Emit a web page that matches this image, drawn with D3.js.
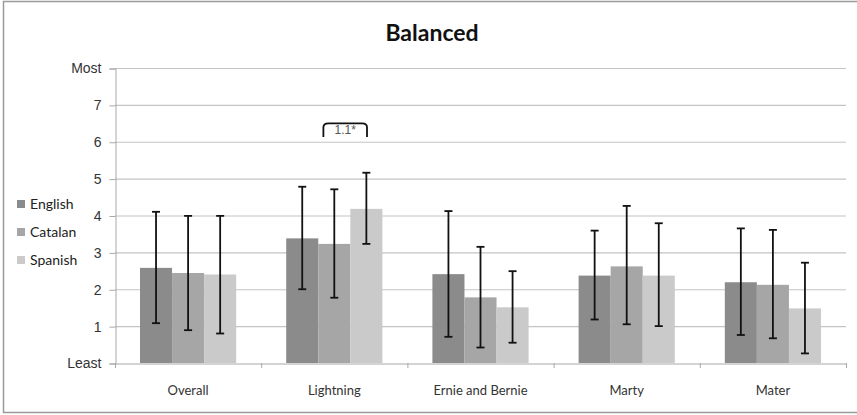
<!DOCTYPE html>
<html>
<head>
<meta charset="utf-8">
<script src="https://cdn.jsdelivr.net/npm/d3@7"></script>
<style>
  body { margin: 0; background: #fff; }
  svg { display: block; }
</style>
</head>
<body>
<script>
// chart values
const categories = ['Overall', 'Lightning', 'Ernie and Bernie', 'Marty', 'Mater'];
const seriesNames = ['English', 'Catalan', 'Spanish'];
const english = [2.58, 3.38, 2.41, 2.37, 2.19];
const catalan = [2.44, 3.23, 1.78, 2.62, 2.12];
const spanish = [2.40, 4.18, 1.51, 2.37, 1.48];
const englishHigh = [4.10, 4.78, 4.12, 3.59, 3.65];
const englishLow = [1.08, 2.00, 0.71, 1.18, 0.76];
const catalanHigh = [3.99, 4.71, 3.15, 4.26, 3.61];
const catalanLow = [0.89, 1.77, 0.42, 1.05, 0.67];
const spanishHigh = [3.99, 5.16, 2.49, 3.79, 2.72];
const spanishLow = [0.80, 3.23, 0.55, 1.00, 0.26];
const tickValues = [0, 1, 2, 3, 4, 5, 6, 7, 8];
const tickLabels = ['Least', '1', '2', '3', '4', '5', '6', '7', 'Most'];

const width = 857, height = 415;
const colors = {English: '#8b8b8b', Catalan: '#a6a6a6', Spanish: '#cacaca'};

const values = {English: english, Catalan: catalan, Spanish: spanish};
const highs = {English: englishHigh, Catalan: catalanHigh, Spanish: spanishHigh};
const lows = {English: englishLow, Catalan: catalanLow, Spanish: spanishLow};

const rows = [];
categories.forEach((c, i) => {
  seriesNames.forEach(s => {
    rows.push({cat: c, series: s, value: values[s][i], hi: highs[s][i], lo: lows[s][i]});
  });
});

const margin = {left: 115, right: 11, top: 68, bottom: 52};

let svg = d3.select('body')
  .append('svg')
  .attr('width', width)
  .attr('height', height);

svg.append('rect')
  .attr('x', 3.5).attr('y', 1.5)
  .attr('width', width).attr('height', 411)
  .attr('fill', '#fff')
  .attr('stroke', '#9a9a9a')
  .attr('stroke-width', 1.5);

const x = d3.scaleBand()
  .domain(categories)
  .range([margin.left, width - margin.right]);

const xSub = d3.scaleBand()
  .domain(seriesNames)
  .range([0, x.bandwidth()])
  .paddingInner(0)
  .paddingOuter(0.78);

const y = d3.scaleLinear()
  .domain([0, 8])
  .range([height - margin.bottom, margin.top]);

// gridlines
svg.append('g')
  .selectAll('line')
  .data(tickValues.filter(d => d > 0))
  .join('line')
  .attr('x1', margin.left)
  .attr('x2', width - margin.right)
  .attr('y1', d => y(d) + 0.5)
  .attr('y2', d => y(d) + 0.5)
  .attr('stroke', '#c4c4c4')
  .attr('stroke-width', 1.2);

// y axis
let yAxis = svg.append('g')
  .attr('transform', `translate(${margin.left + 0.5},0.5)`)
  .call(d3.axisLeft(y)
    .tickValues(tickValues)
    .tickFormat((d, i) => tickLabels[i])
    .tickSize(6)
    .tickPadding(8));
yAxis.select('.domain').attr('stroke', '#a8a8a8');
yAxis.selectAll('.tick line').attr('stroke', '#a8a8a8');
yAxis.selectAll('text')
  .attr('font-family', 'Liberation Sans, Arial, sans-serif')
  .attr('font-size', 14)
  .attr('fill', '#333');

// bars
let bars = svg.append('g')
  .selectAll('rect')
  .data(rows)
  .join('rect')
  .attr('x', d => x(d.cat) + xSub(d.series))
  .attr('width', xSub.bandwidth())
  .attr('y', d => y(d.value))
  .attr('height', d => y(0) - y(d.value))
  .attr('fill', d => colors[d.series]);

// x axis
let xAxis = svg.append('g')
  .attr('transform', `translate(0,${y(0) + 0.5})`)
  .call(d3.axisBottom(x).tickSize(0).tickPadding(22));
xAxis.select('.domain').attr('stroke', '#a8a8a8');
xAxis.selectAll('text')
  .attr('font-family', 'Lato, Open Sans, sans-serif')
  .attr('font-size', 13)
  .attr('fill', '#333');
svg.append('g')
  .selectAll('line')
  .data(categories.concat(['end']))
  .join('line')
  .attr('x1', (d, i) => margin.left + i * x.bandwidth() + 0.5)
  .attr('x2', (d, i) => margin.left + i * x.bandwidth() + 0.5)
  .attr('y1', y(0))
  .attr('y2', y(0) + 5)
  .attr('stroke', '#a8a8a8');

// error bars
const capW = 4;
let err = svg.append('g')
  .attr('stroke', '#111')
  .attr('stroke-width', 1.8)
  .selectAll('g')
  .data(rows)
  .join('g')
  .attr('transform', d => `translate(${x(d.cat) + xSub(d.series) + xSub.bandwidth() / 2},0)`);
err.append('line')
  .attr('y1', d => y(d.hi)).attr('y2', d => y(d.lo));
err.append('line')
  .attr('x1', -capW).attr('x2', capW)
  .attr('y1', d => y(d.hi)).attr('y2', d => y(d.hi));
err.append('line')
  .attr('x1', -capW).attr('x2', capW)
  .attr('y1', d => y(d.lo)).attr('y2', d => y(d.lo));

// significance bracket over Lightning
const bx1 = x('Lightning') + xSub('Catalan') + xSub.bandwidth() * 0.16;
const bx2 = x('Lightning') + xSub('Spanish') + xSub.bandwidth() * 0.52;
const byTop = y(6.5), byBot = y(6.13);
svg.append('path')
  .attr('d', `M${bx1},${byBot} L${bx1},${byTop + 4} Q${bx1},${byTop} ${bx1 + 5},${byTop} L${bx2 - 5},${byTop} Q${bx2},${byTop} ${bx2},${byTop + 4} L${bx2},${byBot}`)
  .attr('fill', 'none')
  .attr('stroke', '#111')
  .attr('stroke-width', 1.8);
svg.append('text')
  .attr('x', (bx1 + bx2) / 2)
  .attr('y', byTop + 11)
  .attr('text-anchor', 'middle')
  .attr('font-family', 'Liberation Sans, Arial, sans-serif')
  .attr('font-size', 12)
  .attr('fill', '#555')
  .text('1.1*');

// title
svg.append('text')
  .attr('x', 432)
  .attr('y', 41)
  .attr('text-anchor', 'middle')
  .attr('font-family', 'Lato, Open Sans, sans-serif')
  .attr('font-weight', 'bold')
  .attr('font-size', 23)
  .attr('fill', '#111')
  .text('Balanced');

// legend
let legend = svg.append('g')
  .selectAll('g')
  .data(seriesNames)
  .join('g')
  .attr('transform', (d, i) => `translate(17,${204 + i * 28})`);
legend.append('rect')
  .attr('x', 0).attr('y', -4)
  .attr('width', 8).attr('height', 8)
  .attr('fill', d => colors[d]);
legend.append('text')
  .attr('x', 13)
  .attr('y', 5)
  .attr('font-family', 'Lato, Open Sans, sans-serif')
  .attr('font-size', 14)
  .attr('fill', '#222')
  .text(d => d);
</script>
</body>
</html>
